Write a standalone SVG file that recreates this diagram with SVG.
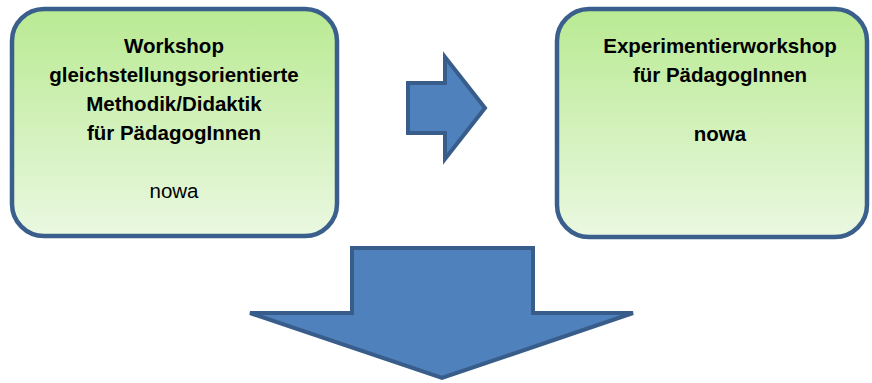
<svg xmlns="http://www.w3.org/2000/svg" width="872" height="383" viewBox="0 0 872 383">
<defs>
<linearGradient id="g" x1="0" y1="0" x2="0" y2="1">
<stop offset="0" stop-color="#B9EA92"/>
<stop offset="1" stop-color="#EAF8E1"/>
</linearGradient>
<style>
.box{fill:url(#g);stroke:#3B5F8C;stroke-width:4.5}
.arr{fill:#4F81BD;stroke:#385D8A;stroke-width:4;stroke-linejoin:miter}
text{font-family:"Liberation Sans",Arial,sans-serif;font-size:20.5px;text-anchor:middle;fill:#000}
.b{font-weight:bold}
</style>
</defs>
<g id="connectors">
<path class="arr" d="M408,83 H445 V57 L485,108 L445,159 V133 H408 Z"/>
<path class="arr" d="M352,248 H533 V313 H633 L442,378 L250,313 H352 Z"/>
</g>
<g id="node1">
<rect class="box" x="12" y="9" width="325" height="227" rx="32"/>
<text class="b" x="174" y="53">Workshop</text>
<text class="b" x="174" y="82">gleichstellungsorientierte</text>
<text class="b" x="174" y="111">Methodik/Didaktik</text>
<text class="b" x="174" y="140">für PädagogInnen</text>
<text x="174" y="198">nowa</text>
</g>
<g id="node2">
<rect class="box" x="557" y="9" width="310" height="228" rx="32"/>
<text class="b" x="720" y="53">Experimentierworkshop</text>
<text class="b" x="720" y="82">für PädagogInnen</text>
<text class="b" x="720" y="141">nowa</text>
</g>
</svg>
